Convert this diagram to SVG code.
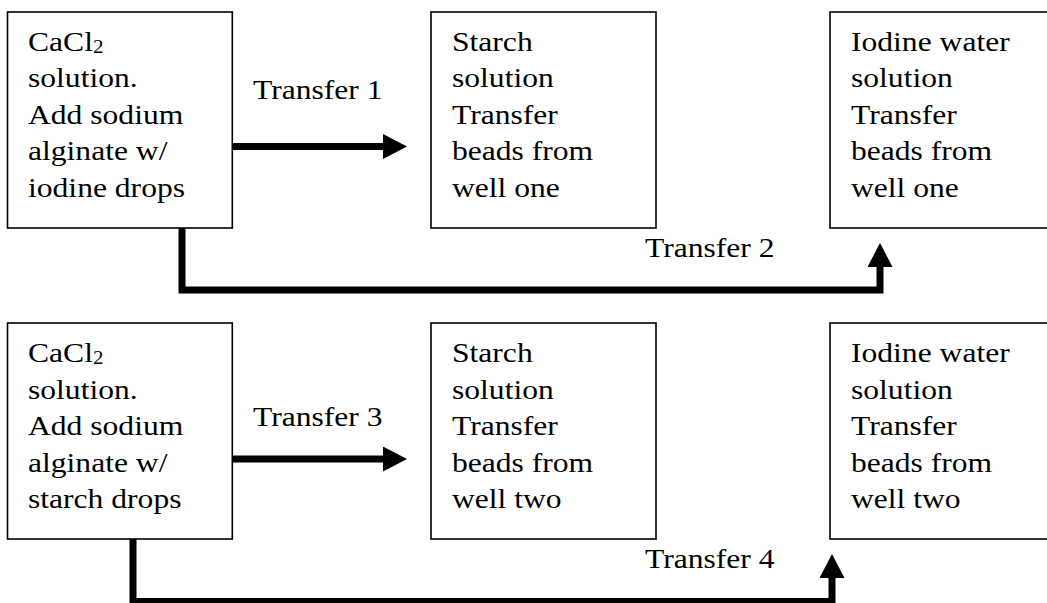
<svg xmlns="http://www.w3.org/2000/svg" width="1047" height="603" viewBox="0 0 1047 603">
  <style>
    .box { fill: #ffffff; stroke: #000000; stroke-width: 1.6; }
    .lbl { font-family: "Liberation Serif", "Times New Roman", serif; font-size: 27px; fill: #000000; }
    .sub { font-size: 18px; }
    .wire { fill: none; stroke: #000000; stroke-width: 7; stroke-linejoin: miter; stroke-linecap: butt; }
  </style>
  <defs>
    <marker id="head" markerUnits="userSpaceOnUse" markerWidth="24" markerHeight="25" viewBox="0 0 24 25" refX="0" refY="12.5" orient="auto">
      <path d="M0,0 L24,12.5 L0,25 Z" fill="#000000"/>
    </marker>
  </defs>
  <rect width="1047" height="603" fill="#ffffff"/>

  <!-- row one -->
  <g id="well1-cacl2">
    <rect class="box" x="7.5" y="12" width="224.8" height="216"/>
    <g class="lbl" transform="translate(28,0) scale(1.17,1)">
      <text x="0" y="51">CaCl<tspan class="sub" dy="2">2</tspan></text>
      <text x="0" y="87.5">solution.</text>
      <text x="0" y="124">Add sodium</text>
      <text x="0" y="160.5">alginate w/</text>
      <text x="0" y="197">iodine drops</text>
    </g>
  </g>
  <g id="well1-starch">
    <rect class="box" x="431" y="12" width="225" height="216"/>
    <g class="lbl" transform="translate(452,0) scale(1.17,1)">
      <text x="0" y="51">Starch</text>
      <text x="0" y="87.5">solution</text>
      <text x="0" y="124">Transfer</text>
      <text x="0" y="160.5">beads from</text>
      <text x="0" y="197">well one</text>
    </g>
  </g>
  <g id="well1-iodine">
    <rect class="box" x="830" y="12" width="240" height="216"/>
    <g class="lbl" transform="translate(851,0) scale(1.17,1)">
      <text x="0" y="51">Iodine water</text>
      <text x="0" y="87.5">solution</text>
      <text x="0" y="124">Transfer</text>
      <text x="0" y="160.5">beads from</text>
      <text x="0" y="197">well one</text>
    </g>
  </g>

  <!-- row two -->
  <g id="well2-cacl2">
    <rect class="box" x="7.5" y="323" width="224.8" height="216"/>
    <g class="lbl" transform="translate(28,0) scale(1.17,1)">
      <text x="0" y="362.5">CaCl<tspan class="sub" dy="2">2</tspan></text>
      <text x="0" y="399">solution.</text>
      <text x="0" y="435.5">Add sodium</text>
      <text x="0" y="472">alginate w/</text>
      <text x="0" y="508.5">starch drops</text>
    </g>
  </g>
  <g id="well2-starch">
    <rect class="box" x="431" y="323" width="225" height="216"/>
    <g class="lbl" transform="translate(452,0) scale(1.17,1)">
      <text x="0" y="362.5">Starch</text>
      <text x="0" y="399">solution</text>
      <text x="0" y="435.5">Transfer</text>
      <text x="0" y="472">beads from</text>
      <text x="0" y="508.5">well two</text>
    </g>
  </g>
  <g id="well2-iodine">
    <rect class="box" x="830" y="323" width="240" height="216"/>
    <g class="lbl" transform="translate(851,0) scale(1.17,1)">
      <text x="0" y="362.5">Iodine water</text>
      <text x="0" y="399">solution</text>
      <text x="0" y="435.5">Transfer</text>
      <text x="0" y="472">beads from</text>
      <text x="0" y="508.5">well two</text>
    </g>
  </g>

  <!-- transfer connectors and their labels -->
  <g id="connectors">
    <path class="wire" d="M232,146.5 H383" marker-end="url(#head)"/>
    <path class="wire" d="M182,228 V290 H880 V267" marker-end="url(#head)"/>
    <path class="wire" d="M232,459 H383" marker-end="url(#head)"/>
    <path class="wire" d="M133,539 V601.5 H832 V578" marker-end="url(#head)"/>
    <g class="lbl">
      <text transform="translate(253,99) scale(1.17,1)">Transfer 1</text>
      <text transform="translate(645,257) scale(1.17,1)">Transfer 2</text>
      <text transform="translate(253,426) scale(1.17,1)">Transfer 3</text>
      <text transform="translate(645,568) scale(1.17,1)">Transfer 4</text>
    </g>
  </g>
</svg>
